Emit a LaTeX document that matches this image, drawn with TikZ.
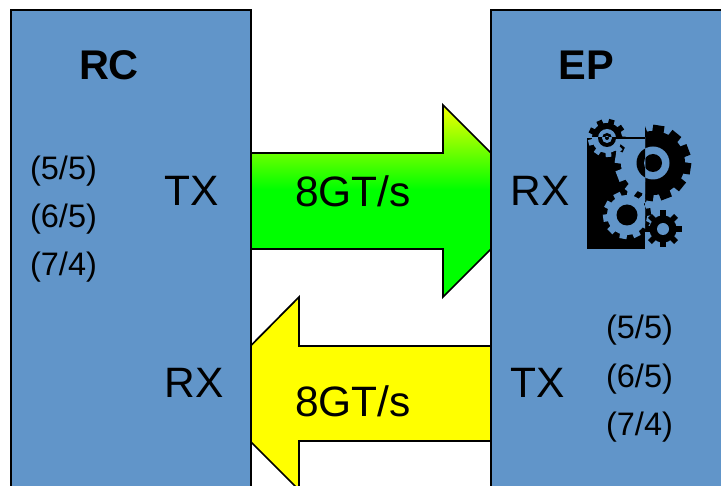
\documentclass[tikz,border=0pt]{standalone}
\usepackage{fontspec}
\setmainfont{Liberation Sans}
\usepackage{xcolor}

\definecolor{boxblue}{HTML}{6195C9}
\definecolor{arrowyellow}{HTML}{FFFF00}
\definecolor{arrowgreen}{HTML}{00FF00}
\definecolor{fadeyellow}{HTML}{F5FF00}
\pgfdeclareverticalshading{arrowfade}{100bp}{color(0bp)=(arrowgreen); color(53bp)=(arrowgreen); color(75bp)=(fadeyellow); color(100bp)=(fadeyellow)}

% one gear: centre x, centre y, outer radius, body radius, teeth, colour, turn
\newcommand{\gear}[7]{
    \fill[#6] (#1,#2) circle (#4);
    \foreach \a in {1,...,#5}{
        \fill[#6, rotate around={\a*360/#5+#7:(#1,#2)}] (#1-0.15*#3,#2) rectangle (#1+0.15*#3,#2-#3);
    }
}

\begin{document}
\begin{tikzpicture}[x=1pt,y=-1pt,node distance=48pt,
    main box/.style={draw,line width=1.7pt,fill=boxblue,anchor=north west,inner sep=0pt},
    big arrow/.style={draw,line width=1.7pt,line join=miter},
    big label/.style={font=\fontsize{42.5}{44}\selectfont},
    small label/.style={font=\fontsize{32.5}{33}\selectfont},
    head label/.style={font=\fontsize{41.5}{42}\selectfont\bfseries}]

    \useasboundingbox (0,0) rectangle (721,486);
    \clip (0,0) rectangle (721,486);

    % arrows go first, the boxes hide their tips
    \path[big arrow,shading=arrowfade] (250,153) -- (443,153) -- (443,105) -- (539,201) -- (443,297) -- (443,249) -- (250,249) -- cycle;
    \path[big arrow,fill=arrowyellow] (530,346) -- (299,346) -- (299,297) -- (203,394) -- (299,490) -- (299,441) -- (530,441) -- cycle;

    \node[main box,minimum width=240pt,minimum height=520pt] (rc) at (10.2,9.5) {};
    \node[main box,minimum width=260pt,minimum height=520pt] (ep) at (490.2,9.5) {};

    \node[head label] (rcname) at (109,65) {RC};
    \node[head label] (epname) at (586.5,65) {EP};

    \node[big label] (rctx) at (191.5,191) {TX};
    \node[big label] (rcrx) at (194.5,383) {RX};
    \node[big label] (eprx) at (540,191) {RX};
    \node[big label] (eptx) at (537.5,383) {TX};
    \node[big label] (up) at (353,191) {8GT/s};
    \node[big label] (down) at (353,401) {8GT/s};

    \node[small label] (l1) at (63.5,171) {(5/5)};
    \node[small label] (l2) [below of = l1]{(6/5)};
    \node[small label] (l3) [below of = l2]{(7/4)};

    \node[small label] (r1) at (639.5,330) {(5/5)};
    \node[small label] (r2) [below of = r1, yshift=-1]{(6/5)};
    \node[small label] (r3) [below of = r2]{(7/4)};

    % gears, black outside the block and blue inside it
    \begin{scope}
        \clip (645,100) rectangle (700,260);
        \gear{653}{163}{38}{32}{12}{black}{-9}
        \fill[boxblue] (653,163) circle (16.5);
        \fill[black] (653,163) circle (9);
        \gear{627}{215}{24}{20}{10}{black}{-10}
    \end{scope}
    \gear{607}{138}{19}{15}{9}{black}{-15}
    \fill[boxblue] (607,138) circle (9);
    \fill[black] (607,138) circle (5);
    \fill[boxblue] (607,138) circle (2);
    \gear{663}{229}{18.5}{13.5}{8}{black}{0}
    \fill[boxblue] (663,229) circle (6);
    \begin{scope}
        \clip (587,138) rectangle (645,249);
        \fill[black] (587,138) rectangle (645,249);
        \gear{607}{138}{19}{15}{9}{boxblue}{-15}
        \gear{653}{163}{38}{32}{12}{boxblue}{-9}
        \gear{627}{215}{24}{20}{10}{boxblue}{-10}
        \fill[black] (607,138) circle (9);
        \fill[boxblue] (607,138) circle (5);
        \fill[black] (607,138) circle (2);
        \fill[black] (653,163) circle (16.5);
        \fill[boxblue] (653,163) circle (9);
        \fill[black] (627,215) circle (10.5);
        \fill[black] (615,137) rectangle (645,139);
    \end{scope}
\end{tikzpicture}
\end{document}
